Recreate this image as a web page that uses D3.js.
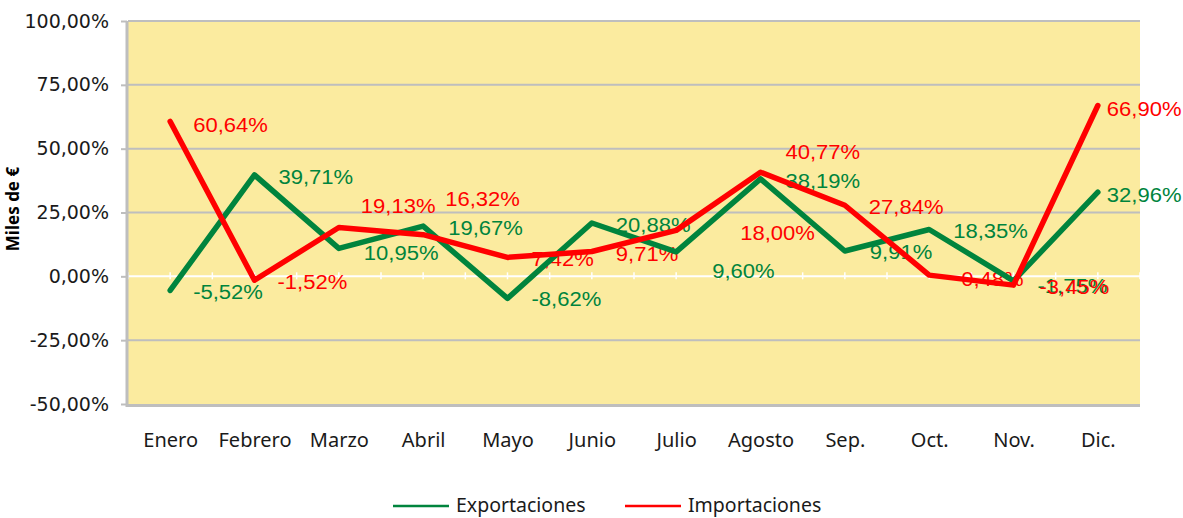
<!DOCTYPE html>
<html>
<head>
<meta charset="utf-8">
<script src="https://cdn.jsdelivr.net/npm/d3@7"></script>
<style>
  html, body { margin: 0; padding: 0; background: #ffffff; }
  svg { display: block; }
</style>
</head>
<body>
<svg id="chart" width="1183" height="518"></svg>
<script>
// ---- data ----
const months = ["Enero", "Febrero", "Marzo", "Abril", "Mayo", "Junio", "Julio", "Agosto", "Sep.", "Oct.", "Nov.", "Dic."];
const exportaciones = [-5.52, 39.71, 10.95, 19.67, -8.62, 20.88, 9.60, 38.19, 9.91, 18.35, -1.75, 32.96];
const importaciones = [60.64, -1.52, 19.13, 16.32, 7.42, 9.71, 18.00, 40.77, 27.84, 0.48, -3.45, 66.90];
const yTicks = [-50, -25, 0, 25, 50, 75, 100];
const seriesNames = ["Exportaciones", "Importaciones"];
const yTitle = "Miles de €";

// ---- label nudges (styling, px) ----
const expNudge = [[23,2],[24,2],[25,5],[25,2],[24,1],[24,2],[36,19],[25,2],[25,1],[24,1],[24,5],[9,3]];
const impNudge = [[23,3],[23,2],[22,-22],[22,-36],[24,2],[24,2],[64,3],[25,-20],[24,2],[32,4],[26,2],[9,3]];

const green = "#00843D";
const red = "#FF0000";
const fmt = v => v.toFixed(2).replace(".", ",") + "%";

const svg = d3.select("#chart");
const pL = 128, pR = 1140, pT = 21, pB = 404;

const x = d3.scalePoint().domain(months).range([pL, pR]).padding(0.5);
const y = d3.scaleLinear().domain([-50, 100]).range([pB, pT]);

// plot background
svg.append("rect").attr("x", pL).attr("y", pT).attr("width", pR - pL).attr("height", pB - pT)
  .attr("fill", "#FBEB9F");

// gridlines
svg.append("g").selectAll("line").data(yTicks.filter(d => d !== 0 && d !== -50)).join("line")
  .attr("x1", pL).attr("x2", pR).attr("y1", d => y(d)).attr("y2", d => y(d))
  .attr("stroke", "#BEBEBE").attr("stroke-width", 2);

// zero line (white) with small ticks every half category
svg.append("line").attr("x1", pL - 6).attr("x2", pR).attr("y1", y(0)).attr("y2", y(0))
  .attr("stroke", "#ffffff").attr("stroke-width", 2);
const step = x.step();
const halfTicks = d3.range(0, months.length * 2 + 1).map(i => pL + i * step / 2);
svg.append("g").selectAll("line").data(halfTicks).join("line")
  .attr("x1", d => d).attr("x2", d => d).attr("y1", y(0) - 4).attr("y2", y(0) + 3)
  .attr("stroke", "#ffffff").attr("stroke-width", 1.5);

// bottom axis line
svg.append("line").attr("x1", pL).attr("x2", pR).attr("y1", pB + 1.5).attr("y2", pB + 1.5)
  .attr("stroke", "#BEBEBE").attr("stroke-width", 3);

// y axis
const yAxis = d3.axisLeft(y).tickValues(yTicks).tickFormat(fmt).tickSize(6).tickPadding(12);
const gy = svg.append("g").attr("transform", `translate(${pL - 1},0)`).call(yAxis);
gy.select(".domain").attr("stroke", "#BEBEBE").attr("stroke-width", 3).attr("d", `M0,${pT}V${pB + 3}`);
gy.selectAll(".tick line").attr("stroke", "#BEBEBE").attr("stroke-width", 2);
gy.selectAll(".tick text").attr("font-family", "'DejaVu Sans', Verdana, sans-serif").attr("font-size", 19)
  .attr("fill", "#1a1a1a").attr("x", -18);

// x axis
const xAxis = d3.axisBottom(x).tickSize(0).tickPadding(0);
const gx = svg.append("g").attr("transform", `translate(0,${pB})`).call(xAxis);
gx.select(".domain").remove();
gx.selectAll(".tick text").attr("font-family", "'Noto Sans', 'Open Sans', sans-serif").attr("font-size", 20)
  .attr("fill", "#1a1a1a").attr("dy", null).attr("y", 43);

// y axis title
svg.append("text").attr("transform", "translate(19,209) rotate(-90)")
  .attr("text-anchor", "middle").attr("font-family", "'Noto Sans', 'Open Sans', sans-serif")
  .attr("font-weight", "bold").attr("font-size", 17).attr("fill", "#000").text(yTitle);

// data labels
function labels(vals, nudge, color) {
  svg.append("g").selectAll("text").data(vals).join("text")
    .attr("transform", (d, i) => `translate(${x(months[i]) + nudge[i][0]},${y(d) + nudge[i][1]}) scale(1.13,1)`)
    .attr("dominant-baseline", "central")
    .attr("font-family", "'Liberation Sans', Arial, sans-serif").attr("font-size", 19.5)
    .attr("fill", color).text(d => fmt(d));
}
labels(exportaciones, expNudge, green);
labels(importaciones, impNudge, red);

// lines
const line = d3.line().x((d, i) => x(months[i])).y(d => y(d));
svg.append("path").datum(exportaciones).attr("d", line).attr("fill", "none")
  .attr("stroke", green).attr("stroke-width", 5.5).attr("stroke-linejoin", "round").attr("stroke-linecap", "round");
svg.append("path").datum(importaciones).attr("d", line).attr("fill", "none")
  .attr("stroke", red).attr("stroke-width", 5.5).attr("stroke-linejoin", "round").attr("stroke-linecap", "round");

// legend
const legend = svg.append("g");
const legItems = [
  { name: seriesNames[0], color: green, x0: 393 },
  { name: seriesNames[1], color: red, x0: 625 }
];
legItems.forEach(it => {
  legend.append("line").attr("x1", it.x0).attr("x2", it.x0 + 56).attr("y1", 506).attr("y2", 506)
    .attr("stroke", it.color).attr("stroke-width", 2.5);
  legend.append("text").attr("x", it.x0 + 63).attr("y", 512)
    .attr("font-family", "'Noto Sans', 'Open Sans', sans-serif").attr("font-size", 19.5)
    .attr("fill", "#1a1a1a").text(it.name);
});
</script>
</body>
</html>
